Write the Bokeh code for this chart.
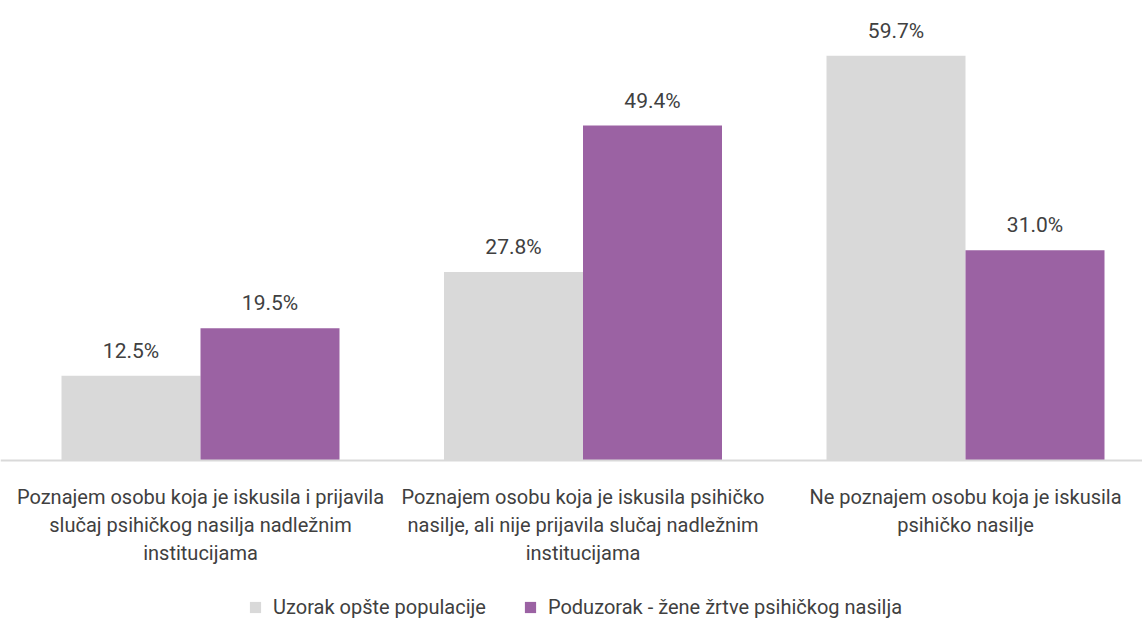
from bokeh.plotting import figure
from bokeh.models import ColumnDataSource, Span, Legend, LegendItem, Range1d
from bokeh.core.properties import value
from bokeh.transform import dodge
from bokeh.embed import file_html
from bokeh.resources import INLINE

categories = [
    "Poznajem osobu koja je iskusila i prijavila\nslučaj psihičkog nasilja nadležnim\ninstitucijama",
    "Poznajem osobu koja je iskusila psihičko\nnasilje, ali nije prijavila slučaj nadležnim\ninstitucijama",
    "Ne poznajem osobu koja je iskusila\npsihičko nasilje",
]
series_names = ["Uzorak opšte populacije", "Poduzorak - žene žrtve psihičkog nasilja"]
general = [12.5, 27.8, 59.7]
victims = [19.5, 49.4, 31.0]
colors = ["#d9d9d9", "#9b62a3"]

FONT = "Roboto"
TXT = "#404040"

W, H = 1142, 621
px_per_cat = 382.5
center0 = 200
x_start = -center0 / px_per_cat
x_end = (W - center0) / px_per_cat
px_per_unit = 6.78
axis_y = 460
y_end = axis_y / px_per_unit
y_start = -(H - axis_y) / px_per_unit

p = figure(width=W, height=H, output_backend="svg", toolbar_location=None,
           x_range=Range1d(x_start, x_end), y_range=Range1d(y_start, y_end),
           min_border=0)
p.axis.visible = False
p.grid.visible = False
p.outline_line_color = None

xs = list(range(len(categories)))
bw = 139 / px_per_cat
src = ColumnDataSource(dict(
    x=xs, cat=categories, g=general, v=victims,
    gl=[f"{v:.1f}%" for v in general], vl=[f"{v:.1f}%" for v in victims],
))

r1 = p.vbar(x=dodge("x", -bw / 2), top="g", width=bw, bottom=0, source=src,
            fill_color=colors[0], line_color=None)
r2 = p.vbar(x=dodge("x", bw / 2), top="v", width=bw, bottom=0, source=src,
            fill_color=colors[1], line_color=None)

for xcol, ycol, lcol in [(-bw / 2, "g", "gl"), (bw / 2, "v", "vl")]:
    p.text(x=dodge("x", xcol), y=ycol, text=lcol, source=src, y_offset=-13,
           text_align="center", text_baseline="bottom", text_font=value(FONT),
           text_font_size="21px", text_color=TXT)

p.add_layout(Span(location=0, dimension="width", line_color="#d9d9d9", line_width=2))

p.text(x="x", y=0, text="cat", source=src, y_offset=24,
       text_align="center", text_baseline="top", text_font=value(FONT),
       text_font_size="20px", text_color=TXT, text_line_height=1.17)

legend = Legend(items=[LegendItem(label=series_names[0], renderers=[r1]),
                       LegendItem(label=series_names[1], renderers=[r2])],
                orientation="horizontal", location=(248, 2),
                glyph_width=14, glyph_height=14, label_standoff=11, spacing=37,
                padding=0, margin=0, border_line_color=None, background_fill_alpha=0,
                label_text_font=FONT, label_text_font_size="20px", label_text_color=TXT)
p.add_layout(legend)

open("out.html", "w").write(file_html(p, INLINE))
